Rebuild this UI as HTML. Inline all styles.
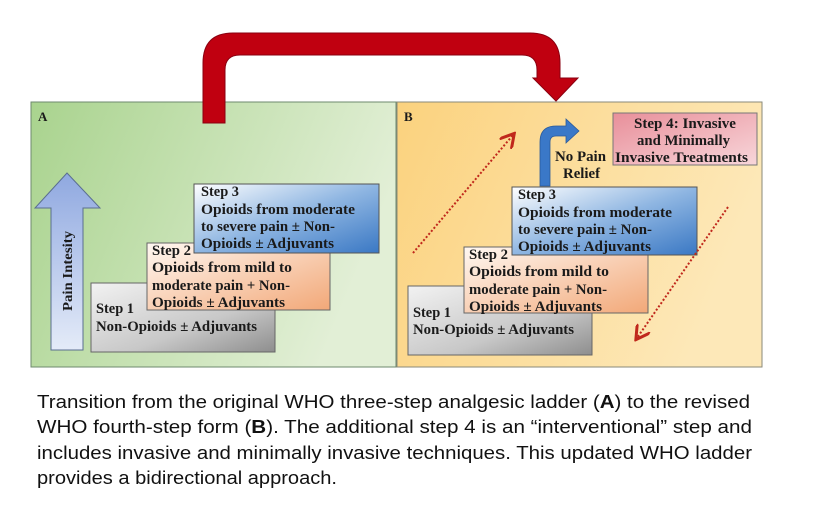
<!DOCTYPE html>
<html><head><meta charset="utf-8"><style>body{margin:0;background:#fff}svg{display:block}</style></head>
<body>
<svg width="832" height="528" viewBox="0 0 832 528" xmlns="http://www.w3.org/2000/svg">
<defs>
<linearGradient id="gA" x1="0" y1="0" x2="1" y2="0.3"><stop offset="0" stop-color="#a9d38e"/><stop offset="1" stop-color="#e2efd6"/></linearGradient>
<linearGradient id="gB" x1="0" y1="0" x2="1" y2="0.3"><stop offset="0" stop-color="#fbd27e"/><stop offset="1" stop-color="#fde8b8"/></linearGradient>
<linearGradient id="s1" x1="0" y1="0" x2="1" y2="1"><stop offset="0" stop-color="#f2f2f2"/><stop offset="0.6" stop-color="#c8c8c8"/><stop offset="1" stop-color="#8e8e8e"/></linearGradient>
<linearGradient id="s2" x1="0" y1="0" x2="1" y2="1"><stop offset="0" stop-color="#fff8f2"/><stop offset="1" stop-color="#f2a878"/></linearGradient>
<linearGradient id="s3" x1="0" y1="0" x2="1" y2="1"><stop offset="0" stop-color="#ffffff"/><stop offset="0.5" stop-color="#8fb6e2"/><stop offset="1" stop-color="#3a78c4"/></linearGradient>
<linearGradient id="s4" x1="0" y1="0" x2="1" y2="1"><stop offset="0" stop-color="#e88f9a"/><stop offset="1" stop-color="#f8d6da"/></linearGradient>
<linearGradient id="ar" x1="0" y1="0" x2="0" y2="1"><stop offset="0" stop-color="#8fa8e0"/><stop offset="1" stop-color="#e4ebf8"/></linearGradient>
<marker id="mh" markerWidth="8" markerHeight="8" refX="6" refY="4" orient="auto"><path d="M0,0 L7,4 L0,8" fill="none" stroke="#c0281c" stroke-width="1.5"/></marker>
</defs>
<rect x="31" y="102" width="365" height="265" fill="url(#gA)" stroke="#6e8a6e" stroke-width="1"/>
<rect x="397" y="102" width="365" height="265" fill="url(#gB)" stroke="#8a8a7a" stroke-width="1"/>
<path d="M203,123 L203,63 Q203,33 233,33 L530,33 Q560,33 560,63 L560,78 L578,78 L556,101 L533,78 L537,78 L537,70 Q537,55 522,55 L240,55 Q225,55 225,70 L225,123 Z" fill="#c00010" stroke="#8a0010" stroke-width="1"/>
<g font-family="'Liberation Serif',serif" font-weight="bold" fill="#1a1a1a">
<text x="38" y="121" font-size="13">A</text>
<text x="404" y="121" font-size="13">B</text>
<path d="M51,350 L51,208 L35,208 L67,173 L100,208 L83,208 L83,350 Z" fill="url(#ar)" stroke="#5a6e90" stroke-width="1"/>
<text transform="translate(72,311) rotate(-90)" font-size="14" textLength="80" lengthAdjust="spacingAndGlyphs">Pain Intesity</text>
<g font-size="15" lengthAdjust="spacingAndGlyphs">
<rect x="91" y="283" width="184" height="69" fill="url(#s1)" stroke="#666"/>
<rect x="147" y="243" width="183" height="67" fill="url(#s2)" stroke="#666"/>
<rect x="194" y="184" width="185" height="69" fill="url(#s3)" stroke="#555"/>
<text x="96" y="313" textLength="38" lengthAdjust="spacingAndGlyphs">Step 1</text>
<text x="96" y="331" textLength="161" lengthAdjust="spacingAndGlyphs">Non-Opioids ± Adjuvants</text>
<text x="152" y="255" textLength="39" lengthAdjust="spacingAndGlyphs">Step 2</text>
<text x="152" y="272" textLength="140" lengthAdjust="spacingAndGlyphs">Opioids from mild to</text>
<text x="152" y="290" textLength="138" lengthAdjust="spacingAndGlyphs">moderate pain + Non-</text>
<text x="152" y="307" textLength="133" lengthAdjust="spacingAndGlyphs">Opioids ± Adjuvants</text>
<text x="201" y="196" textLength="38" lengthAdjust="spacingAndGlyphs">Step 3</text>
<text x="201" y="214" textLength="154" lengthAdjust="spacingAndGlyphs">Opioids from moderate</text>
<text x="201" y="231" textLength="134" lengthAdjust="spacingAndGlyphs">to severe pain ± Non-</text>
<text x="201" y="248" textLength="133" lengthAdjust="spacingAndGlyphs">Opioids ± Adjuvants</text>
</g>
<g font-size="15">
<rect x="408" y="286" width="184" height="69" fill="url(#s1)" stroke="#666"/>
<rect x="464" y="247" width="184" height="66" fill="url(#s2)" stroke="#666"/>
<rect x="512" y="187" width="185" height="68" fill="url(#s3)" stroke="#555"/>
<text x="413" y="317" textLength="38" lengthAdjust="spacingAndGlyphs">Step 1</text>
<text x="413" y="334" textLength="161" lengthAdjust="spacingAndGlyphs">Non-Opioids ± Adjuvants</text>
<text x="469" y="259" textLength="39" lengthAdjust="spacingAndGlyphs">Step 2</text>
<text x="469" y="276" textLength="140" lengthAdjust="spacingAndGlyphs">Opioids from mild to</text>
<text x="469" y="294" textLength="138" lengthAdjust="spacingAndGlyphs">moderate pain + Non-</text>
<text x="469" y="311" textLength="133" lengthAdjust="spacingAndGlyphs">Opioids ± Adjuvants</text>
<text x="518" y="199" textLength="38" lengthAdjust="spacingAndGlyphs">Step 3</text>
<text x="518" y="217" textLength="154" lengthAdjust="spacingAndGlyphs">Opioids from moderate</text>
<text x="518" y="234" textLength="134" lengthAdjust="spacingAndGlyphs">to severe pain ± Non-</text>
<text x="518" y="251" textLength="133" lengthAdjust="spacingAndGlyphs">Opioids ± Adjuvants</text>
<rect x="613" y="113" width="144" height="52" fill="url(#s4)" stroke="#777"/>
<text x="634" y="128" textLength="102" lengthAdjust="spacingAndGlyphs">Step 4: Invasive</text>
<text x="637" y="145" textLength="93" lengthAdjust="spacingAndGlyphs">and Minimally</text>
<text x="615" y="162" textLength="133" lengthAdjust="spacingAndGlyphs">Invasive Treatments</text>
<text x="555" y="161" textLength="51" lengthAdjust="spacingAndGlyphs">No Pain</text>
<text x="563" y="178" textLength="37" lengthAdjust="spacingAndGlyphs">Relief</text>
</g>
<path d="M540,186 L540,142 Q540,126 556,126 L566,126 L566,119 L579,131 L566,143 L566,136 L556,136 Q550,136 550,142 L550,186 Z" fill="#3a78c8" stroke="#2a5a9a" stroke-width="0.8"/>
</g>
<line x1="413" y1="253" x2="513" y2="135" stroke="#c0281c" stroke-width="2" stroke-dasharray="2,2" marker-end="url(#mh)"/>
<line x1="728" y1="207" x2="637" y2="338" stroke="#c0281c" stroke-width="2" stroke-dasharray="2,2" marker-end="url(#mh)"/>
<g font-family="'Liberation Sans',sans-serif" font-size="18" fill="#111">
<text x="37" y="408" textLength="713" lengthAdjust="spacingAndGlyphs">Transition from the original WHO three-step analgesic ladder (<tspan font-weight="bold">A</tspan>) to the revised</text>
<text x="37" y="433" textLength="715" lengthAdjust="spacingAndGlyphs">WHO fourth-step form (<tspan font-weight="bold">B</tspan>). The additional step 4 is an “interventional” step and</text>
<text x="37" y="459" textLength="715" lengthAdjust="spacingAndGlyphs">includes invasive and minimally invasive techniques. This updated WHO ladder</text>
<text x="37" y="484" textLength="300" lengthAdjust="spacingAndGlyphs">provides a bidirectional approach.</text>
</g>
</svg>
</body></html>
